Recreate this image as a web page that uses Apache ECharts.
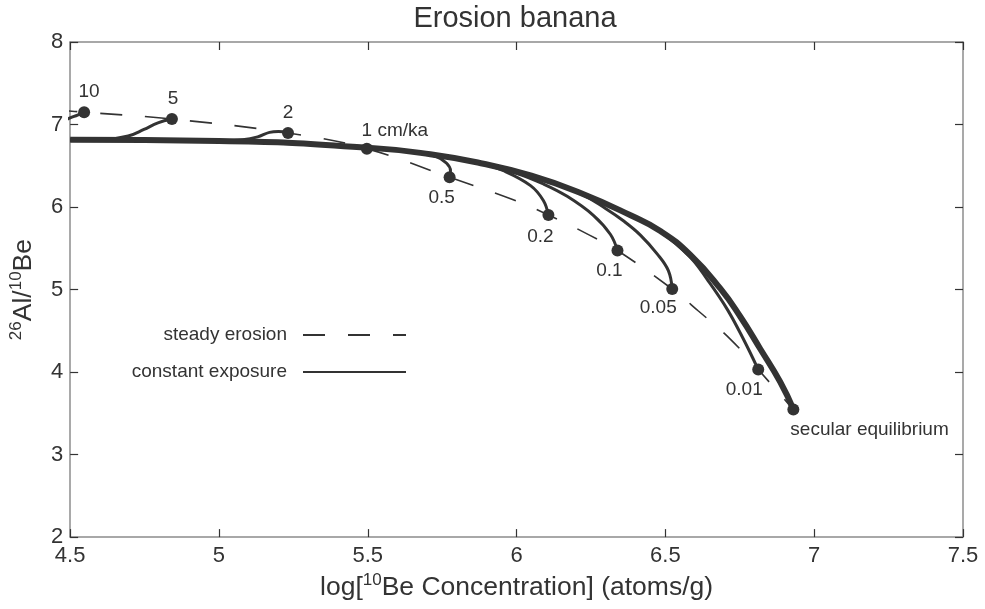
<!DOCTYPE html>
<html><head><meta charset="utf-8">
<script src="https://cdn.jsdelivr.net/npm/echarts@6/dist/echarts.min.js"></script>
<style>html,body{margin:0;padding:0;background:#fff}#chart{width:985px;height:609px}</style>
</head><body><div id="chart"></div>
<script>
// ---- data ----
const xTicks = [4.5, 7.5, 0.5];   // min, max, step
const yTicks = [2, 8, 1];

const dotLabels = ['10', '5', '2', '1 cm/ka', '0.5', '0.2', '0.1', '0.05', '0.01', 'secular equilibrium'];
const dotX = [4.547, 4.842, 5.232, 5.497, 5.775, 6.107, 6.339, 6.523, 6.812, 6.93];
const dotY = [7.15, 7.066, 6.898, 6.707, 6.36, 5.904, 5.473, 5.006, 4.03, 3.545];

const steadyErosion = [[4.45, 7.175], [4.547, 7.15], [4.842, 7.066], [5.232, 6.898], [5.497, 6.707],
  [5.775, 6.36], [5.98, 6.10], [6.107, 5.904], [6.245, 5.66], [6.339, 5.473], [6.523, 5.006],
  [6.611, 4.74], [6.718, 4.40], [6.812, 4.03], [6.93, 3.545]];

const exposureNoErosion = [[4.5, 6.814], [5.0, 6.80], [5.5, 6.72], [5.71, 6.64], [5.88, 6.53], [6.05, 6.38],
  [6.215, 6.17], [6.383, 5.90], [6.483, 5.71], [6.584, 5.42], [6.685, 5.01], [6.752, 4.67],
  [6.819, 4.28], [6.886, 3.88], [6.93, 3.55]];
const exposure001 = [[4.5, 6.814], [5.0, 6.80], [5.5, 6.72], [5.71, 6.64], [5.88, 6.53], [6.05, 6.38],
  [6.215, 6.17], [6.383, 5.90], [6.483, 5.70], [6.584, 5.39], [6.641, 5.12], [6.708, 4.76],
  [6.762, 4.40], [6.812, 4.03]];
const exposure005 = [[4.5, 6.814], [5.0, 6.80], [5.5, 6.72], [5.71, 6.64], [5.88, 6.53], [6.05, 6.38],
  [6.215, 6.16], [6.30, 5.98], [6.36, 5.83], [6.416, 5.66], [6.473, 5.43], [6.51, 5.23], [6.523, 5.006]];
const exposure01 = [[4.5, 6.814], [5.0, 6.80], [5.5, 6.72], [5.71, 6.64], [5.88, 6.53], [6.0, 6.41],
  [6.09, 6.28], [6.17, 6.13], [6.258, 5.90], [6.315, 5.67], [6.339, 5.473]];
const exposure02 = [[4.5, 6.814], [5.0, 6.80], [5.5, 6.72], [5.71, 6.64], [5.88, 6.53], [5.956, 6.44],
  [6.047, 6.26], [6.09, 6.08], [6.107, 5.904]];
const exposure05 = [[4.5, 6.814], [5.0, 6.80], [5.5, 6.72], [5.65, 6.67], [5.73, 6.61], [5.765, 6.53],
  [5.778, 6.44], [5.775, 6.36]];
const exposure1 = [[4.5, 6.814], [5.0, 6.80], [5.3, 6.77], [5.497, 6.707]];
const exposure2 = [[4.5, 6.814], [5.0, 6.80], [5.08, 6.815], [5.13, 6.85], [5.17, 6.905], [5.20, 6.915], [5.232, 6.898]];
const exposure5 = [[4.5, 6.814], [4.62, 6.82], [4.695, 6.86], [4.748, 6.94], [4.795, 7.02], [4.842, 7.066]];
const exposure10 = [[4.47, 7.03], [4.5, 7.08], [4.525, 7.115], [4.547, 7.15]];

// ---- layout / style ----
const ink = '#333333';
const frame = '#8c8c8c';
const font = '"Liberation Sans", Arial, Helvetica, sans-serif';
const labelOffsets = [[5, -20], [1, -20], [0, -20], [28, -18], [-8, 20], [-8, 22], [-8, 20], [-14, 19], [-14, 20], [-3, 20]];

const thinCurves = [exposure001, exposure005, exposure01, exposure02, exposure05, exposure1, exposure2, exposure5, exposure10];

const chart = echarts.init(document.getElementById('chart'), null, { renderer: 'canvas' });

const supRich = { sup: { fontSize: 17, lineHeight: 17, verticalAlign: 'top', color: ink, fontFamily: font } };

const series = [];
series.push({
  name: 'steady erosion', type: 'line', data: steadyErosion, smooth: 0.4, symbol: 'none',
  itemStyle: { color: ink },
  lineStyle: { color: ink, width: 1.6, type: [22, 23] }, z: 2, silent: true
});
thinCurves.forEach(function (c) {
  series.push({
    name: 'constant exposure', type: 'line', data: c, smooth: 0.4, symbol: 'none',
    itemStyle: { color: ink },
    lineStyle: { color: ink, width: 3 }, z: 3, silent: true
  });
});
series.push({
  name: 'constant exposure ', type: 'line', data: exposureNoErosion, smooth: 0.5, symbol: 'none',
  itemStyle: { color: ink },
  lineStyle: { color: ink, width: 6 }, z: 4, silent: true
});
series.push({
  name: 'rates', type: 'scatter', symbol: 'circle', symbolSize: 12, z: 5, silent: true,
  itemStyle: { color: ink, opacity: 1 },
  data: dotX.map(function (x, i) {
    return {
      value: [x, dotY[i]], name: dotLabels[i],
      label: {
        show: true, formatter: '{b}', position: 'inside',
        align: i === dotLabels.length - 1 ? 'left' : 'center', verticalAlign: 'middle',
        offset: labelOffsets[i], fontSize: 19, color: ink, opacity: 1, fontFamily: font
      }
    };
  })
});

const axisCommon = {
  axisLine: { show: true, onZero: false, lineStyle: { color: frame, width: 1.5 } },
  axisTick: { show: true, inside: true, length: 8, lineStyle: { color: ink, width: 1.2 } },
  splitLine: { show: false }
};

chart.setOption({
  animation: false,
  backgroundColor: '#ffffff',
  textStyle: { fontFamily: font },
  title: {
    text: 'Erosion banana', left: 515, top: 4, textAlign: 'center', padding: 0,
    textStyle: { fontSize: 29, fontWeight: 'normal', color: ink, fontFamily: font }
  },
  legend: {
    data: ['steady erosion', 'constant exposure'],
    orient: 'vertical', align: 'right', right: 578, top: 325.5, padding: 0,
    itemWidth: 103, itemHeight: 14, itemGap: 18,
    itemStyle: { opacity: 0 },
    lineStyle: { width: 2 },
    textStyle: { fontSize: 19, color: ink, fontFamily: font, padding: [0, 11, 0, 0] }
  },
  grid: { left: 69, right: 22, top: 42, bottom: 66, containLabel: false },
  xAxis: [
    Object.assign({
      type: 'value', position: 'bottom', min: xTicks[0], max: xTicks[1], interval: xTicks[2],
      axisLabel: { show: true, fontSize: 22, color: ink, margin: 8, showMinLabel: true, showMaxLabel: true, fontFamily: font },
      name: 'log[{sup|10}Be Concentration] (atoms/g)', nameLocation: 'middle', nameGap: 32,
      nameTextStyle: { fontSize: 26.5, lineHeight: 32, color: ink, fontFamily: font, rich: supRich }
    }, axisCommon),
    Object.assign({
      type: 'value', position: 'top', min: xTicks[0], max: xTicks[1], interval: xTicks[2],
      axisLabel: { show: false }
    }, axisCommon)
  ],
  yAxis: [
    Object.assign({
      type: 'value', position: 'left', min: yTicks[0], max: yTicks[1], interval: yTicks[2],
      axisLabel: { show: true, fontSize: 22, color: ink, margin: 7, showMinLabel: true, showMaxLabel: true, fontFamily: font },
      name: '{sup|26}Al/{sup|10}Be', nameLocation: 'middle', nameGap: 28,
      nameTextStyle: { fontSize: 26.5, lineHeight: 32, color: ink, fontFamily: font, rich: supRich }
    }, axisCommon),
    Object.assign({
      type: 'value', position: 'right', min: yTicks[0], max: yTicks[1], interval: yTicks[2],
      axisLabel: { show: false }
    }, axisCommon)
  ],
  series: series
});
</script></body></html>
